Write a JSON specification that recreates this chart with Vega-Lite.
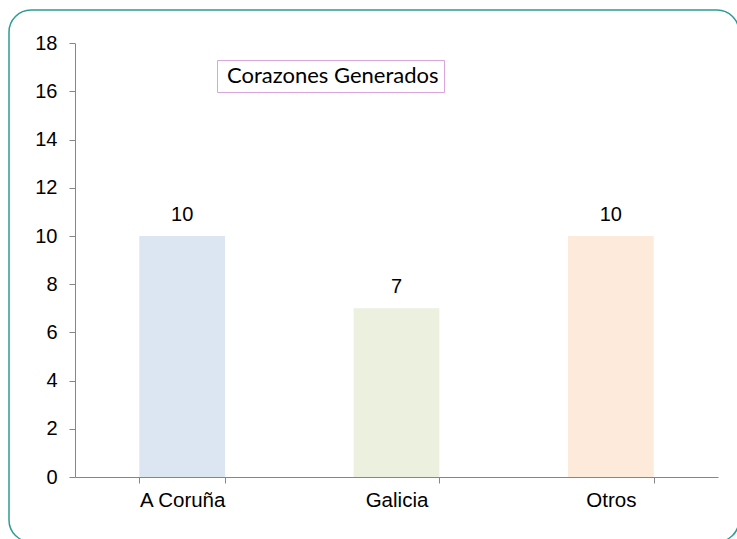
{
  "$schema": "https://vega.github.io/schema/vega-lite/v6.json",
  "width": 730,
  "height": 532,
  "autosize": {"type": "none"},
  "padding": {"left": 9, "top": 10, "right": 0, "bottom": 0},
  "background": "white",
  "config": {
    "view": {"stroke": "#2e9c94", "strokeWidth": 1.5, "cornerRadius": 22},
    "font": "Liberation Sans"
  },
  "data": {
    "values": [
      {"region": "A Coruña", "valor": 10, "serie": "Corazones Generados"},
      {"region": "Galicia", "valor": 7, "serie": "Corazones Generados"},
      {"region": "Otros", "valor": 10, "serie": "Corazones Generados"}
    ]
  },
  "encoding": {
    "x": {
      "field": "region", "type": "nominal", "sort": null,
      "scale": {"range": [66, 709], "paddingInner": 0.6, "paddingOuter": 0.3},
      "axis": {"title": null, "labelAngle": 0, "tickBand": "extent", "offset": -65, "grid": false,
        "domainColor": "#868686", "tickColor": "#868686", "tickSize": 6,
        "labelFontSize": 20.5, "labelColor": "#000", "labelPadding": 7, "labelFont": "Liberation Sans"}
    },
    "y": {
      "field": "valor", "type": "quantitative",
      "scale": {"domain": [0, 18], "range": [467, 33.3], "nice": false},
      "axis": {"title": null, "values": [0, 2, 4, 6, 8, 10, 12, 14, 16, 18], "offset": -66, "grid": false,
        "domainColor": "#868686", "tickColor": "#868686", "tickSize": 6,
        "labelFontSize": 20, "labelColor": "#000", "labelPadding": 12, "labelFont": "Liberation Sans"}
    }
  },
  "layer": [
    {
      "mark": {"type": "bar"},
      "encoding": {
        "color": {"field": "region", "type": "nominal", "sort": null,
          "scale": {"range": ["#dce6f2", "#ebf1de", "#fdeada"]}, "legend": null}
      }
    },
    {
      "mark": {"type": "text", "dy": -21, "fontSize": 20, "color": "#000", "font": "Liberation Sans"},
      "encoding": {"text": {"field": "valor", "type": "quantitative"}}
    },
    {
      "mark": {"type": "point", "opacity": 0},
      "encoding": {
        "shape": {"field": "serie", "type": "nominal",
          "legend": {"title": null, "orient": "none", "legendX": 208, "legendY": 50,
            "strokeColor": "#d8a6dc", "fillColor": "white", "padding": 5,
            "labelFont": "Lato", "labelFontSize": 22, "labelColor": "#000",
            "symbolSize": 0, "symbolOpacity": 0, "symbolStrokeWidth": 0, "labelOffset": -17, "labelLimit": 0}}
      }
    }
  ]
}
